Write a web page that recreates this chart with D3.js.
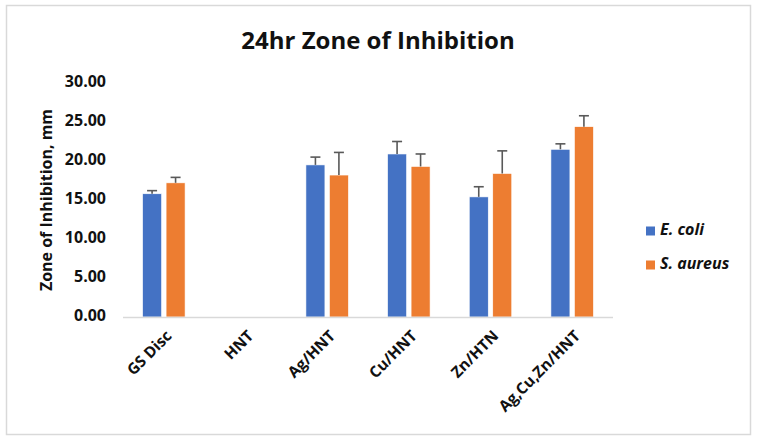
<!DOCTYPE html>
<html>
<head>
<meta charset="utf-8">
<script src="https://cdn.jsdelivr.net/npm/d3@7"></script>
<style>
  body { margin: 0; background: #fff; }
  text { font-family: "Open Sans", "Noto Sans", sans-serif; }
</style>
</head>
<body>
<svg id="chart"></svg>
<script>
const categories = ["GS Disc", "HNT", "Ag/HNT", "Cu/HNT", "Zn/HTN", "Ag,Cu,Zn/HNT"];
const seriesNames = ["E. coli", "S. aureus"];
const ecoli = [15.8, 0, 19.5, 20.9, 15.4, 21.5];
const ecoliErr = [0.4, 0, 1.0, 1.6, 1.3, 0.7];
const saureus = [17.2, 0, 18.2, 19.3, 18.4, 24.4];
const saureusErr = [0.7, 0, 2.9, 1.6, 2.9, 1.4];
const yTicks = [0, 5, 10, 15, 20, 25, 30];

const width = 757;
const height = 442;
const colors = ["#4472c4", "#ed7d31"];

const svg = d3.select("#chart").attr("width", width).attr("height", height);

// chart frame
svg
  .append("rect")
  .attr("x", 6.5)
  .attr("y", 5.5)
  .attr("width", 744)
  .attr("height", 429)
  .attr("fill", "#fff")
  .attr("stroke", "#d9d9d9")
  .attr("stroke-width", 1.5);

const x0 = d3.scaleBand().domain(categories).range([123, 613]);
const x1 = d3.scaleBand().domain(seriesNames).range([0, 42.5]).paddingInner(0.1915);
const y = d3.scaleLinear().domain([0, 30]).range([317, 83]);

const rows = categories.map((c, i) => ({
  cat: c,
  vals: [
    {s: seriesNames[0], v: ecoli[i], e: ecoliErr[i]},
    {s: seriesNames[1], v: saureus[i], e: saureusErr[i]},
  ],
}));

// title
svg
  .append("text")
  .attr("x", 378)
  .attr("y", 49)
  .attr("text-anchor", "middle")
  .attr("font-size", "24px")
  .attr("font-weight", "bold")
  .attr("fill", "#111")
  .text("24hr Zone of Inhibition");

// y tick labels
svg
  .selectAll(".ytick")
  .data(yTicks)
  .enter()
  .append("text")
  .attr("x", 106)
  .attr("y", (d) => y(d))
  .attr("text-anchor", "end")
  .attr("dominant-baseline", "middle")
  .attr("font-size", "16px")
  .attr("font-weight", "bold")
  .attr("fill", "#111")
  .text((d) => d.toFixed(2));

// y axis title
svg
  .append("text")
  .attr("transform", "translate(48,200) rotate(-90)")
  .attr("text-anchor", "middle")
  .attr("dominant-baseline", "middle")
  .attr("font-size", "16px")
  .attr("font-weight", "bold")
  .attr("fill", "#111")
  .text("Zone of Inhibition, mm");

// bars
const groups = svg
  .selectAll(".group")
  .data(rows)
  .enter()
  .append("g")
  .attr("transform", (d) => `translate(${x0(d.cat) + x0.bandwidth() / 2 - 21.25},0)`);

groups
  .selectAll("rect")
  .data((d) => d.vals.filter((v) => v.v > 0))
  .enter()
  .append("rect")
  .attr("x", (d) => x1(d.s))
  .attr("y", (d) => y(d.v))
  .attr("width", x1.bandwidth())
  .attr("height", (d) => y(0) - y(d.v))
  .attr("fill", (d) => colors[seriesNames.indexOf(d.s)])
  .attr("stroke", "#fff")
  .attr("stroke-width", 0.6);

// error bars (plus side only)
const errs = groups
  .selectAll(".err")
  .data((d) => d.vals.filter((v) => v.v > 0))
  .enter()
  .append("g")
  .attr("stroke", "#595959")
  .attr("stroke-width", 1.6);

errs
  .append("line")
  .attr("x1", (d) => x1(d.s) + x1.bandwidth() / 2)
  .attr("x2", (d) => x1(d.s) + x1.bandwidth() / 2)
  .attr("y1", (d) => y(d.v))
  .attr("y2", (d) => y(d.v + d.e));

errs
  .append("line")
  .attr("x1", (d) => x1(d.s) + x1.bandwidth() / 2 - 5)
  .attr("x2", (d) => x1(d.s) + x1.bandwidth() / 2 + 5)
  .attr("y1", (d) => y(d.v + d.e))
  .attr("y2", (d) => y(d.v + d.e));

// x axis line
svg
  .append("line")
  .attr("x1", 123)
  .attr("x2", 613)
  .attr("y1", y(0) + 0.5)
  .attr("y2", y(0) + 0.5)
  .attr("stroke", "#d9d9d9")
  .attr("stroke-width", 1.5);

// x labels
svg
  .selectAll(".xlabel")
  .data(categories)
  .enter()
  .append("text")
  .attr("transform", (d) => `translate(${x0(d) + x0.bandwidth() / 2 + 6},334) rotate(-45)`)
  .attr("text-anchor", "end")
  .attr("dominant-baseline", "middle")
  .attr("font-size", "15.5px")
  .attr("font-weight", "bold")
  .attr("fill", "#111")
  .text((d) => d);

// legend
const legend = svg
  .selectAll(".legend")
  .data(seriesNames)
  .enter()
  .append("g")
  .attr("transform", (d, i) => `translate(646,${231 + i * 34})`);

legend
  .append("rect")
  .attr("x", 0)
  .attr("y", -4.5)
  .attr("width", 9)
  .attr("height", 9)
  .attr("fill", (d, i) => colors[i]);

legend
  .append("text")
  .attr("x", 14)
  .attr("y", 0)
  .attr("dominant-baseline", "middle")
  .attr("font-size", "16px")
  .attr("font-weight", "bold")
  .attr("font-style", "italic")
  .attr("fill", "#111")
  .text((d) => d);
</script>
</body>
</html>
